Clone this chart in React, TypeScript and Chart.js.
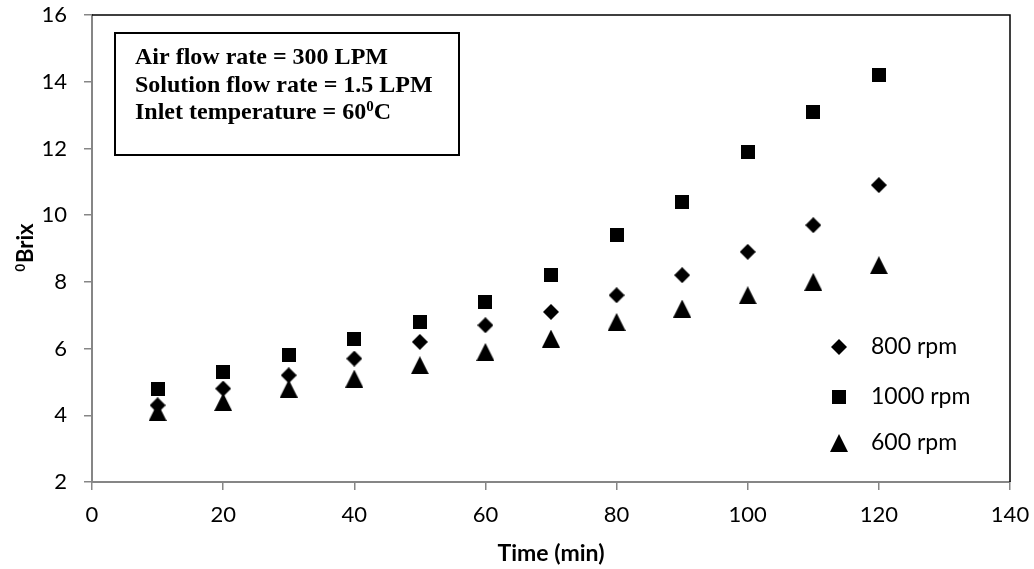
import React, { useEffect, useRef } from "react";
import { Chart, registerables } from "chart.js";

Chart.register(...registerables);

const timeMin = [10, 20, 30, 40, 50, 60, 70, 80, 90, 100, 110, 120];
const rpm800 = [4.3, 4.8, 5.2, 5.7, 6.2, 6.7, 7.1, 7.6, 8.2, 8.9, 9.7, 10.9];
const rpm1000 = [4.8, 5.3, 5.8, 6.3, 6.8, 7.4, 8.2, 9.4, 10.4, 11.9, 13.1, 14.2];
const rpm600 = [4.1, 4.4, 4.8, 5.1, 5.5, 5.9, 6.3, 6.8, 7.2, 7.6, 8.0, 8.5];
const seriesLabels = ["800 rpm", "1000 rpm", "600 rpm"];
const xTicks = [0, 20, 40, 60, 80, 100, 120, 140];
const yTicks = [2, 4, 6, 8, 10, 12, 14, 16];
const noteLines = ["Air flow rate = 300 LPM", "Solution flow rate = 1.5 LPM", "Inlet temperature = 60"];

function makeMarker(kind: string): HTMLCanvasElement {
  const c = document.createElement("canvas");
  const s = kind === "triangle" ? 18 : kind === "diamond" ? 16 : 14;
  c.width = s;
  c.height = s;
  const ctx = c.getContext("2d")!;
  ctx.fillStyle = "#000";
  ctx.beginPath();
  if (kind === "square") {
    ctx.rect(0, 0, s, s);
  } else if (kind === "diamond") {
    ctx.moveTo(s / 2, 0);
    ctx.lineTo(s, s / 2);
    ctx.lineTo(s / 2, s);
    ctx.lineTo(0, s / 2);
    ctx.closePath();
  } else {
    ctx.moveTo(s / 2, 0);
    ctx.lineTo(s, s);
    ctx.lineTo(0, s);
    ctx.closePath();
  }
  ctx.fill();
  return c;
}

function zeroPadding(s: any) {
  s.paddingTop = 0;
  s.paddingBottom = 0;
  s.paddingLeft = 0;
  s.paddingRight = 0;
}

export default function App() {
  const ref = useRef<HTMLCanvasElement>(null);

  useEffect(() => {
    if (!ref.current) return;
    const diamond = makeMarker("diamond");
    const square = makeMarker("square");
    const triangle = makeMarker("triangle");
    const markers = [diamond, square, triangle];

    const toPts = (ys: number[]) => timeMin.map((x, i) => ({ x, y: ys[i] }));

    const overlay = {
      id: "overlay",
      beforeDatasetsDraw(chart: any) {
        const { ctx, chartArea: a } = chart;
        ctx.save();
        ctx.strokeStyle = "#000";
        ctx.lineWidth = 1.5;
        ctx.beginPath();
        ctx.moveTo(a.left, a.top);
        ctx.lineTo(a.right, a.top);
        ctx.lineTo(a.right, a.bottom);
        ctx.stroke();
        ctx.restore();
      },
      afterDraw(chart: any) {
        const { ctx } = chart;
        ctx.save();
        // annotation box
        ctx.fillStyle = "#fff";
        ctx.fillRect(115, 33, 344, 122);
        ctx.strokeStyle = "#000";
        ctx.lineWidth = 2;
        ctx.strokeRect(115, 33, 344, 122);
        ctx.fillStyle = "#000";
        ctx.textBaseline = "alphabetic";
        ctx.textAlign = "left";
        const baseY = [64, 91.5, 119];
        noteLines.forEach((t, i) => {
          ctx.font = "bold 24px 'Liberation Serif'";
          ctx.fillText(t, 135, baseY[i]);
          if (i === 2) {
            let w = ctx.measureText(t).width;
            ctx.font = "bold 15px 'Liberation Serif'";
            ctx.fillText("0", 135 + w, baseY[i] - 8);
            w += ctx.measureText("0").width;
            ctx.font = "bold 24px 'Liberation Serif'";
            ctx.fillText("C", 135 + w, baseY[i]);
          }
        });
        // legend
        const legY = [347, 397, 443];
        ctx.font = "23px Lato";
        ctx.textBaseline = "middle";
        seriesLabels.forEach((lab, i) => {
          const m = markers[i];
          ctx.drawImage(m, 839 - m.width / 2, legY[i] - m.height / 2);
          ctx.fillText(lab, 871, legY[i]);
        });
        // y-axis title
        ctx.translate(33, 248);
        ctx.rotate(-Math.PI / 2);
        ctx.textBaseline = "alphabetic";
        ctx.font = "bold 13px Lato";
        const w0 = ctx.measureText("0").width;
        ctx.font = "bold 22px Lato";
        const wB = ctx.measureText("Brix").width;
        const start = -(w0 + wB) / 2;
        ctx.font = "bold 13px Lato";
        ctx.fillText("0", start, -8);
        ctx.font = "bold 22px Lato";
        ctx.fillText("Brix", start + w0 + 1, 0);
        ctx.restore();
      },
    };

    const chart = new Chart(ref.current, {
      type: "scatter",
      data: {
        datasets: [
          { label: seriesLabels[0], data: toPts(rpm800), pointStyle: diamond as any, backgroundColor: "#000", borderColor: "#000" },
          { label: seriesLabels[1], data: toPts(rpm1000), pointStyle: square as any, backgroundColor: "#000", borderColor: "#000" },
          { label: seriesLabels[2], data: toPts(rpm600), pointStyle: triangle as any, backgroundColor: "#000", borderColor: "#000" },
        ],
      },
      options: {
        responsive: false,
        animation: false,
        layout: { padding: { top: 15, right: 24, left: 0, bottom: 0 } },
        plugins: {
          legend: { display: false },
          tooltip: { enabled: false },
          title: { display: false },
        },
        scales: {
          x: {
            type: "linear",
            min: 0,
            max: 140,
            afterFit: (s: any) => {
              s.height = 87;
              zeroPadding(s);
            },
            afterBuildTicks: (s: any) => {
              s.ticks = xTicks.map((v) => ({ value: v }));
            },
            ticks: { color: "#000", font: { family: "Lato", size: 22 }, padding: 12, maxRotation: 0 },
            grid: { drawOnChartArea: false, drawTicks: true, tickLength: 8, color: "#868686", lineWidth: 1.5 },
            border: { color: "#868686", width: 2 },
            title: {
              display: true,
              text: "Time (min)",
              color: "#000",
              font: { family: "Lato", size: 23, weight: "bold" },
              padding: { top: 0, bottom: 2 },
            },
          },
          y: {
            type: "linear",
            min: 2,
            max: 16,
            afterFit: (s: any) => {
              s.width = 92;
              zeroPadding(s);
            },
            afterBuildTicks: (s: any) => {
              s.ticks = yTicks.map((v) => ({ value: v }));
            },
            ticks: { color: "#000", font: { family: "Lato", size: 22 }, padding: 17 },
            grid: { drawOnChartArea: false, drawTicks: true, tickLength: 8, color: "#868686", lineWidth: 1.5 },
            border: { color: "#868686", width: 2 },
          },
        },
      },
      plugins: [overlay],
    });
    return () => chart.destroy();
  }, []);

  return (
    <div style={{ position: "fixed", left: 0, top: 0, width: 1034, height: 569, background: "#fff" }}>
      <canvas ref={ref} width={1034} height={569} style={{ width: 1034, height: 569 }} />
    </div>
  );
}
